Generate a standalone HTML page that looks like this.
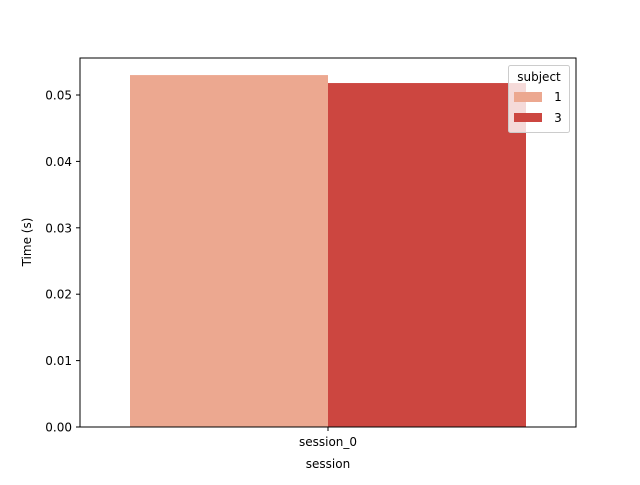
<!DOCTYPE html>
<html><head><meta charset="utf-8"><style>body{margin:0;background:#fff}svg{font-family:"DejaVu Sans","Liberation Sans",sans-serif}</style></head>
<body>
<svg id="chart" width="640" height="480" xmlns="http://www.w3.org/2000/svg">
<rect x="0" y="0" width="640" height="480" fill="#fff"/>
<g id="bars"></g>
<g id="yticks"></g>
<rect x="80" y="58" width="496" height="369" fill="none" stroke="#000" stroke-width="1"/>
<line x1="328" y1="427" x2="328" y2="431" stroke="#000"/>
<text x="328" y="446" font-size="12" text-anchor="middle">session_0</text>
<text x="328" y="468" font-size="12" text-anchor="middle">session</text>
<text x="31" y="242" font-size="12" text-anchor="middle" transform="rotate(-90 31 242)">Time (s)</text>
<g>
<rect x="508.5" y="65.5" width="61" height="67" rx="2" fill="#fff" fill-opacity="0.8" stroke="#ccc"/>
<text x="539" y="81" font-size="12" text-anchor="middle">subject</text>
<rect x="514" y="92" width="28" height="10" fill="#eca890"/>
<text x="558" y="101" font-size="12" text-anchor="middle">1</text>
<rect x="514" y="113" width="28" height="9" fill="#cc4640"/>
<text x="558" y="122" font-size="12" text-anchor="middle">3</text>
</g>
</svg>
<script>
const subjects=["1","3"];
const values=[0.0530,0.0518];
const colors=["#eca890","#cc4640"];
const yTicks=[0,0.01,0.02,0.03,0.04,0.05];
const yTickLabels=["0.00","0.01","0.02","0.03","0.04","0.05"];
const ns="http://www.w3.org/2000/svg";
function y(v){return 427-v/0.05*332;}
function x(i){return 130+i*198;}
const bg=document.getElementById('bars');
values.forEach((v,i)=>{
const r=document.createElementNS(ns,'rect');
r.setAttribute('x',x(i));r.setAttribute('width',198);
r.setAttribute('y',y(v));r.setAttribute('height',427-y(v));
r.setAttribute('fill',colors[i]);


bg.appendChild(r);});
const tg=document.getElementById('yticks');
yTicks.forEach((t,i)=>{
const l=document.createElementNS(ns,'line');
l.setAttribute('x1',76);l.setAttribute('x2',80);l.setAttribute('y1',y(t));l.setAttribute('y2',y(t));l.setAttribute('stroke','#000');


tg.appendChild(l);
const tx=document.createElementNS(ns,'text');
tx.setAttribute('x',72);tx.setAttribute('y',y(t)+4.5);tx.setAttribute('font-size',12);tx.setAttribute('text-anchor','end');
tx.textContent=yTickLabels[i];


tg.appendChild(tx);});
</script>
</body></html>
